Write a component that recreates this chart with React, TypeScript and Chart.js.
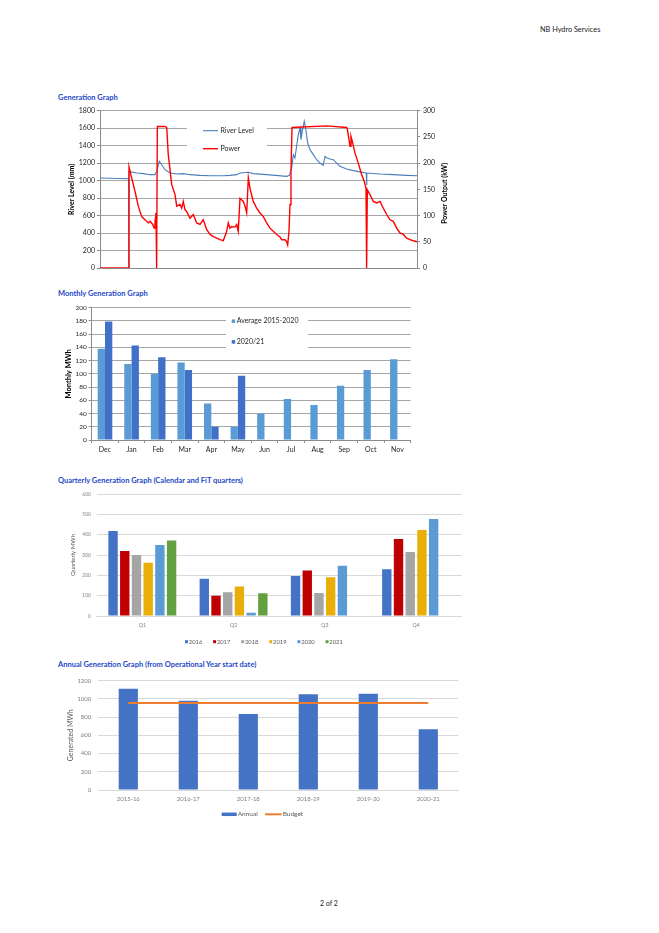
import React, { useEffect, useRef } from "react";
import { Chart, registerables } from "chart.js";

Chart.register(...registerables);

const FONT = "Lato, 'Open Sans', Arial, sans-serif";

// ---------- Generation Graph (day of operational year) ----------
const riverDays = [0, 33.0, 33.2, 33.4, 42.3, 49.9, 57.6, 63.3, 65.3, 68.3, 71.0, 74.8, 80.6, 88.3, 95.9, 103.6, 115.1, 126.7, 142.0, 149.7, 157.4, 161.2, 170.8, 176.5, 191.9, 215.0, 218.0, 220.7, 222.6, 224.5, 228.3, 230.3, 231.4, 232.9, 235.2, 236.8, 239.1, 241.8, 245.6, 249.5, 253.3, 257.1, 259.1, 261.0, 264.8, 268.6, 272.5, 276.3, 284.0, 291.7, 299.4, 306.6, 307.0, 307.4, 322.4, 337.7, 353.1, 365];
const riverLevelMm = [1030, 1022, 0, 1106, 1087, 1080, 1068, 1068, 1106, 1220, 1182, 1125, 1087, 1075, 1080, 1068, 1060, 1056, 1056, 1060, 1068, 1087, 1095, 1080, 1068, 1049, 1060, 1144, 1297, 1260, 1525, 1602, 1468, 1563, 1678, 1602, 1430, 1354, 1297, 1239, 1201, 1175, 1278, 1260, 1247, 1239, 1201, 1163, 1133, 1114, 1100, 1087, 950, 1087, 1075, 1068, 1060, 1056];

const powerDays = [0, 33.4, 33.4, 36.5, 40.3, 44.1, 48.0, 51.8, 55.6, 57.6, 60.7, 62.2, 63.3, 64.5, 64.8, 65.6, 66.0, 74.8, 76.8, 78.6, 82.6, 86.4, 88.3, 92.1, 94.1, 95.9, 97.9, 99.8, 103.6, 107.4, 111.3, 115.1, 118.9, 122.9, 126.7, 130.5, 134.4, 138.2, 142.0, 145.9, 147.7, 149.7, 151.6, 155.4, 157.4, 159.2, 161.2, 165.0, 167.0, 168.9, 170.8, 172.7, 176.5, 180.4, 184.2, 188.0, 191.9, 195.7, 199.5, 203.5, 207.3, 209.2, 213.0, 215.0, 216.1, 217.6, 218.8, 219.9, 221.1, 261.0, 284.0, 284.7, 287.9, 289.0, 291.0, 293.6, 297.4, 301.3, 304.3, 306.3, 306.6, 307.4, 307.8, 310.9, 314.7, 318.6, 322.4, 326.2, 330.1, 333.9, 337.7, 341.6, 345.4, 349.2, 353.1, 356.9, 360.7, 365];
const powerKw = [0, 0, 193, 172, 146, 118, 98, 92, 86, 89, 83, 76, 86, 105, 0, 0, 270, 270, 268, 216, 159, 140, 118, 121, 114, 127, 111, 108, 95, 102, 86, 83, 92, 73, 64, 60, 57, 54, 52, 70, 86, 76, 79, 78, 83, 70, 133, 127, 118, 105, 172, 152, 127, 114, 105, 98, 86, 76, 70, 64, 59, 54, 54, 50, 44, 70, 121, 184, 268, 271, 268, 266, 232, 251, 238, 219, 200, 178, 165, 152, 0, 0, 149, 140, 127, 124, 127, 114, 102, 92, 89, 76, 67, 64, 57, 54, 52, 50];

// ---------- Monthly Generation Graph ----------
const months = ["Dec", "Jan", "Feb", "Mar", "Apr", "May", "Jun", "Jul", "Aug", "Sep", "Oct", "Nov"];
const avg2015to2020 = [138, 115, 100, 117, 55, 20, 40, 62, 53, 82, 106, 122];
const gen2020to21 = [179, 143, 125, 106, 20, 97, null, null, null, null, null, null];

// ---------- Quarterly Generation Graph ----------
const quarters = ["Q1", "Q2", "Q3", "Q4"];
const q2016 = [419, 184, 197, 230];
const q2017 = [320, 100, 224, 380];
const q2018 = [301, 117, 113, 316];
const q2019 = [263, 146, 191, 424];
const q2020 = [350, 16, 248, 478];
const q2021 = [372, 112, null, null];

// ---------- Annual Generation Graph ----------
const opYears = ["2015-16", "2016-17", "2017-18", "2018-19", "2019-20", "2020-21"];
const annualMWh = [1110, 978, 835, 1050, 1057, 666];
const budgetMWh = [953, 953, 953, 953, 953, 953];

const font = (size: number, weight: string = "normal") => ({ family: FONT, size, weight });
const fixW = (w: number) => (s: any) => { s.width = w; };
const fixH = (h: number) => (s: any) => { s.height = h; };
const plain = (v: any) => String(v);

const baseOpts = {
  responsive: false,
  animation: false,
  devicePixelRatio: 1,
  events: [],
};

// ---------------- Chart 1 ----------------
const genPlugin = {
  id: "genLegend",
  beforeDatasetsDraw(chart: any) {
    const { ctx, chartArea: a } = chart;
    ctx.save();
    ctx.fillStyle = "#ffffff";
    ctx.fillRect(a.left + 87, a.top + 9, 80, 36);
    const order = ["River Level", "Power"];
    order.forEach((lbl, i) => {
      const ds = chart.data.datasets.find((d: any) => d.label === lbl);
      const y = a.top + 20 + i * 18;
      ctx.strokeStyle = ds.borderColor;
      ctx.lineWidth = ds.borderWidth;
      ctx.beginPath();
      ctx.moveTo(a.left + 103, y);
      ctx.lineTo(a.left + 118, y);
      ctx.stroke();
      ctx.fillStyle = "#262626";
      ctx.font = `7px ${FONT}`;
      ctx.textBaseline = "middle";
      ctx.textAlign = "left";
      ctx.fillText(ds.label, a.left + 120.5, y);
    });
    ctx.restore();
  },
  afterDraw(chart: any) {
    const { ctx, chartArea: a } = chart;
    ctx.save();
    ctx.translate(chart.width - 15, (a.top + a.bottom) / 2 + 4);
    ctx.rotate(-Math.PI / 2);
    ctx.font = `bold 7px ${FONT}`;
    ctx.fillStyle = "#000";
    ctx.textAlign = "center";
    ctx.textBaseline = "middle";
    ctx.fillText("Power Output (kW)", 0, 0);
    ctx.restore();
  },
};

function genConfig(): any {
  return {
    type: "line",
    data: {
      datasets: [
        {
          label: "Power",
          data: powerDays.map((d, i) => ({ x: d, y: powerKw[i] })),
          yAxisID: "y1",
          borderColor: "#FF0000",
          backgroundColor: "#FF0000",
          borderWidth: 1.4,
          pointRadius: 0,
          tension: 0,
          order: 0,
        },
        {
          label: "River Level",
          data: riverDays.map((d, i) => ({ x: d, y: riverLevelMm[i] })),
          yAxisID: "y",
          borderColor: "#4A7EBB",
          backgroundColor: "#4A7EBB",
          borderWidth: 1.1,
          pointRadius: 0,
          tension: 0,
          order: 1,
        },
      ],
    },
    options: {
      ...baseOpts,
      layout: { padding: { top: 10.7, right: 0, bottom: 0, left: 0 } },
      plugins: { legend: { display: false }, tooltip: { enabled: false } },
      scales: {
        x: {
          type: "linear",
          min: 0,
          max: 365,
          ticks: { display: false },
          grid: { display: false, drawTicks: false },
          border: { display: true, color: "#8c8c8c" },
          afterFit: fixH(12),
        },
        y: {
          position: "left",
          min: 0,
          max: 1800,
          ticks: { stepSize: 200, color: "#262626", font: font(7), padding: 2, callback: plain },
          grid: { color: "#a6a6a6", tickLength: 3, tickColor: "#8c8c8c" },
          border: { color: "#8c8c8c" },
          title: { display: true, text: "River Level (mm)", color: "#000", font: font(7, "bold"), padding: { top: 27.5, bottom: 0 } },
          afterFit: fixW(60),
        },
        y1: {
          position: "right",
          min: 0,
          max: 300,
          ticks: { stepSize: 50, color: "#262626", font: font(7), padding: 3, callback: plain },
          grid: { drawOnChartArea: false, tickLength: 3, color: "#8c8c8c" },
          border: { color: "#8c8c8c" },
          afterFit: fixW(43),
        },
      },
    },
    plugins: [genPlugin],
  };
}

// ---------------- Chart 2 ----------------
const monthlyPlugin = {
  id: "monthlyLegend",
  beforeDatasetsDraw(chart: any) {
    const { ctx, chartArea: a } = chart;
    ctx.save();
    ctx.fillStyle = "#ffffff";
    ctx.fillRect(a.left + 134.3, a.top + 5.3, 82, 38.5);
    chart.data.datasets.forEach((ds: any, i: number) => {
      const y = a.top + 13.5 + i * 20.7;
      ctx.fillStyle = ds.backgroundColor;
      ctx.fillRect(a.left + 140, y - 1.75, 3.5, 3.5);
      ctx.fillStyle = "#262626";
      ctx.font = `7px ${FONT}`;
      ctx.textBaseline = "middle";
      ctx.textAlign = "left";
      ctx.fillText(ds.label, a.left + 145, y);
    });
    ctx.restore();
  },
};

function monthlyConfig(): any {
  return {
    type: "bar",
    data: {
      labels: months,
      datasets: [
        { label: "Average 2015-2020", data: avg2015to2020, backgroundColor: "#5A9BD5", categoryPercentage: 0.55, barPercentage: 1 },
        { label: "2020/21", data: gen2020to21, backgroundColor: "#4070C8", categoryPercentage: 0.55, barPercentage: 1 },
      ],
    },
    options: {
      ...baseOpts,
      layout: { padding: { top: 7.7, right: 9.3, bottom: 0, left: 0 } },
      plugins: { legend: { display: false }, tooltip: { enabled: false } },
      scales: {
        x: {
          grid: { drawOnChartArea: false, tickLength: 3, color: "#8c8c8c", offset: true },
          border: { color: "#8c8c8c" },
          ticks: { color: "#262626", font: font(7), padding: 3 },
          afterFit: fixH(20),
        },
        y: {
          min: 0,
          max: 200,
          ticks: { stepSize: 20, color: "#262626", font: font(6.5), padding: 2, callback: plain },
          grid: { color: "#a6a6a6", tickLength: 3, tickColor: "#8c8c8c" },
          border: { color: "#8c8c8c" },
          title: { display: true, text: "Monthly MWh", color: "#000", font: font(7.5, "bold"), padding: { top: 24.5, bottom: 0 } },
          afterFit: fixW(51.7),
        },
      },
    },
    plugins: [monthlyPlugin],
  };
}

// ---------------- Chart 3 ----------------
const quarterlyPlugin = {
  id: "quarterlyLegend",
  afterDraw(chart: any) {
    const { ctx } = chart;
    ctx.save();
    const y = 156.7;
    chart.data.datasets.forEach((ds: any, i: number) => {
      const x = 145 + i * 28.1;
      ctx.fillStyle = ds.backgroundColor;
      ctx.fillRect(x, y - 1.5, 3, 3);
      ctx.fillStyle = "#595959";
      ctx.font = `5.8px ${FONT}`;
      ctx.textBaseline = "middle";
      ctx.textAlign = "left";
      ctx.fillText(ds.label, x + 3.8, y);
    });
    ctx.restore();
  },
};

function quarterlyConfig(): any {
  const mk = (label: string, data: any[], color: string) => ({
    label,
    data,
    backgroundColor: color,
    categoryPercentage: 0.77,
    barPercentage: 0.8,
  });
  return {
    type: "bar",
    data: {
      labels: quarters,
      datasets: [
        mk("2016", q2016, "#4472C4"),
        mk("2017", q2017, "#C00000"),
        mk("2018", q2018, "#A5A5A5"),
        mk("2019", q2019, "#EAAE08"),
        mk("2020", q2020, "#5B9BD5"),
        mk("2021", q2021, "#62A040"),
      ],
    },
    options: {
      ...baseOpts,
      layout: { padding: { top: 9.3, right: 18.3, bottom: 0, left: 0 } },
      plugins: { legend: { display: false }, tooltip: { enabled: false } },
      scales: {
        x: {
          grid: { display: false, drawTicks: false },
          border: { color: "#d9d9d9" },
          ticks: { color: "#7f7f7f", font: font(5.2), padding: 6.5 },
          afterFit: fixH(34),
        },
        y: {
          min: 0,
          max: 600,
          ticks: { stepSize: 100, color: "#7f7f7f", font: font(4.8), padding: 6, callback: plain },
          grid: { color: "#d9d9d9", drawTicks: false },
          border: { display: false },
          title: { display: true, text: "Quarterly MWh", color: "#595959", font: font(6), padding: { top: 29.7, bottom: 0 } },
          afterFit: fixW(56.7),
        },
      },
    },
    plugins: [quarterlyPlugin],
  };
}

// ---------------- Chart 4 ----------------
const annualPlugin = {
  id: "annualLegend",
  afterDraw(chart: any) {
    const { ctx } = chart;
    const y = 144.3;
    const annual = chart.data.datasets.find((d: any) => d.label === "Annual");
    const budget = chart.data.datasets.find((d: any) => d.label === "Budget");
    ctx.save();
    ctx.font = `6.5px ${FONT}`;
    ctx.textBaseline = "middle";
    ctx.textAlign = "left";
    ctx.fillStyle = annual.backgroundColor;
    ctx.fillRect(181.7, y - 1.75, 15, 3.5);
    ctx.fillStyle = "#595959";
    ctx.fillText(annual.label, 197.7, y);
    ctx.strokeStyle = budget.borderColor;
    ctx.lineWidth = 2;
    ctx.beginPath();
    ctx.moveTo(225, y);
    ctx.lineTo(241.7, y);
    ctx.stroke();
    ctx.fillText(budget.label, 242.7, y);
    ctx.restore();
  },
};

function annualConfig(): any {
  return {
    type: "bar",
    data: {
      labels: opYears,
      datasets: [
        { type: "line", label: "Budget", data: budgetMWh, borderColor: "#ED7D31", backgroundColor: "#ED7D31", borderWidth: 2, pointRadius: 0, order: 0 },
        { type: "bar", label: "Annual", data: annualMWh, backgroundColor: "#4472C4", categoryPercentage: 1, barPercentage: 0.32, order: 1 },
      ],
    },
    options: {
      ...baseOpts,
      layout: { padding: { top: 8.3, right: 11.7, bottom: 0, left: 0 } },
      plugins: { legend: { display: false }, tooltip: { enabled: false } },
      scales: {
        x: {
          grid: { display: false, drawTicks: false },
          border: { color: "#d9d9d9" },
          ticks: { color: "#7f7f7f", font: font(6), padding: 5.4 },
          afterFit: fixH(35),
        },
        y: {
          min: 0,
          max: 1200,
          ticks: { stepSize: 200, color: "#7f7f7f", font: font(6), padding: 7, callback: plain },
          grid: { color: "#d9d9d9", drawTicks: false },
          border: { display: false },
          title: { display: true, text: "Generated MWh", color: "#595959", font: font(7), padding: { top: 26.5, bottom: 0 } },
          afterFit: fixW(58.3),
        },
      },
    },
    plugins: [annualPlugin],
  };
}

function ChartBox({ left, top, width, height, make }: any) {
  const ref = useRef<HTMLCanvasElement | null>(null);
  useEffect(() => {
    const chart = new Chart(ref.current as HTMLCanvasElement, make());
    return () => chart.destroy();
  }, []);
  return (
    <canvas
      ref={ref}
      width={width}
      height={height}
      style={{ position: "absolute", left, top, width, height }}
    />
  );
}

function Title({ y, text }: { y: number; text: string }) {
  return (
    <div
      style={{
        position: "absolute",
        left: 58,
        top: y - 5,
        lineHeight: "10px",
        fontSize: 7.5,
        fontWeight: "bold",
        color: "#2348C8",
        whiteSpace: "nowrap",
      }}
    >
      {text}
    </div>
  );
}

export default function App() {
  return (
    <div
      style={{
        position: "absolute",
        left: 0,
        top: 0,
        width: 659,
        height: 933,
        background: "#ffffff",
        fontFamily: FONT,
        overflow: "hidden",
      }}
    >
      <div style={{ position: "absolute", left: 540, top: 25, fontSize: 7.3, lineHeight: "10px", color: "#1a1a1a", whiteSpace: "nowrap" }}>
        NB Hydro Services
      </div>

      <Title y={98} text="Generation Graph" />
      <ChartBox left={40} top={100} width={420} height={180} make={genConfig} />

      <Title y={294.3} text="Monthly Generation Graph" />
      <ChartBox left={40} top={300} width={380} height={160} make={monthlyConfig} />

      <Title y={481} text="Quarterly Generation Graph (Calendar and FiT quarters)" />
      <ChartBox left={40} top={485} width={440} height={165} make={quarterlyConfig} />

      <Title y={665} text="Annual Generation Graph (from Operational Year start date)" />
      <ChartBox left={40} top={670} width={430} height={155} make={annualConfig} />

      <div style={{ position: "absolute", left: 320, top: 898, fontSize: 7, lineHeight: "10px", color: "#1a1a1a", whiteSpace: "nowrap" }}>
        2 of 2
      </div>
    </div>
  );
}
